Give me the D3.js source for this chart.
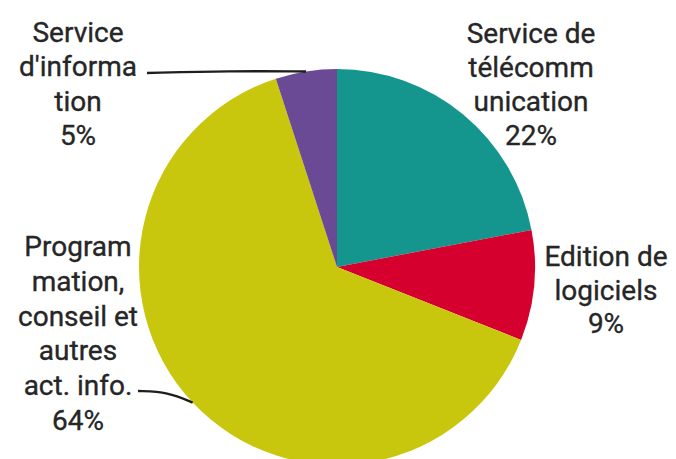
<!DOCTYPE html>
<html>
<head>
<meta charset="utf-8">
<script src="https://cdn.jsdelivr.net/npm/d3@7"></script>
<style>
  body { margin: 0; background: #fff; }
  text { font-family: Roboto, "Noto Sans", sans-serif; fill: #262626; stroke: #262626; stroke-width: 0.35px; }
</style>
</head>
<body>
<svg width="676" height="459"></svg>
<script>
// data, clockwise from 12 o'clock
var categories = ["Service de télécommunication", "Edition de logiciels",
                  "Programmation, conseil et autres act. info.", "Service d'information"];
var values = [22, 9, 64, 5];
var labelLines = [
  ["Service de", "télécomm", "unication", "22%"],
  ["Edition de", "logiciels", "9%"],
  ["Program", "mation,", "conseil et", "autres", "act. info.", "64%"],
  ["Service", "d'informa", "tion", "5%"]
];
var colors = ["#14968f", "#d5002e", "#c9c70d", "#6a4a94"];

var svg = d3.select("svg");
var cx = 337, cy = 267, r = 198;

var pie = d3.pie().sort(null).value(function(d) { return d; });
var arc = d3.arc().innerRadius(0).outerRadius(r);
var arcs = pie(values);

var g = svg.append("g").attr("transform", "translate(" + cx + "," + cy + ")");

g.selectAll("path.slice")
  .data(arcs)
  .enter().append("path")
  .attr("class", "slice")
  .attr("d", arc)
  .attr("fill", function(d, i) { return colors[i]; });

// label placement (text block centre x, first baseline y, line step)
var labelPos = [
  { x: 531, y: 43, step: 34 },
  { x: 606, y: 266, step: 33.5 },
  { x: 78, y: 256, step: 34.8 },
  { x: 78, y: 42, step: 34.3 }
];

labelLines.forEach(function(lines, i) {
  var p = labelPos[i];
  var t = svg.append("text")
    .attr("text-anchor", "middle")
    .attr("font-size", "28px");
  lines.forEach(function(line, j) {
    t.append("tspan").attr("x", p.x).attr("y", p.y + j * p.step).text(line);
  });
});

// leader lines to the rim at the slice mid angle
function rimPoint(d) {
  var a = (d.startAngle + d.endAngle) / 2;
  return [cx + r * Math.sin(a), cy - r * Math.cos(a)];
}
var leaders = [
  { slice: 3, from: [147, 73], ctrl: [230, 71] },
  { slice: 2, from: [138, 391], ctrl: [168, 392] }
];
var line = d3.line().curve(d3.curveBasis);
leaders.forEach(function(l) {
  var end = rimPoint(arcs[l.slice]);
  svg.append("path")
    .attr("d", line([l.from, l.ctrl, end]))
    .attr("fill", "none")
    .attr("stroke", "#1e1e1e")
    .attr("stroke-width", 2.4);
});
</script>
</body>
</html>
